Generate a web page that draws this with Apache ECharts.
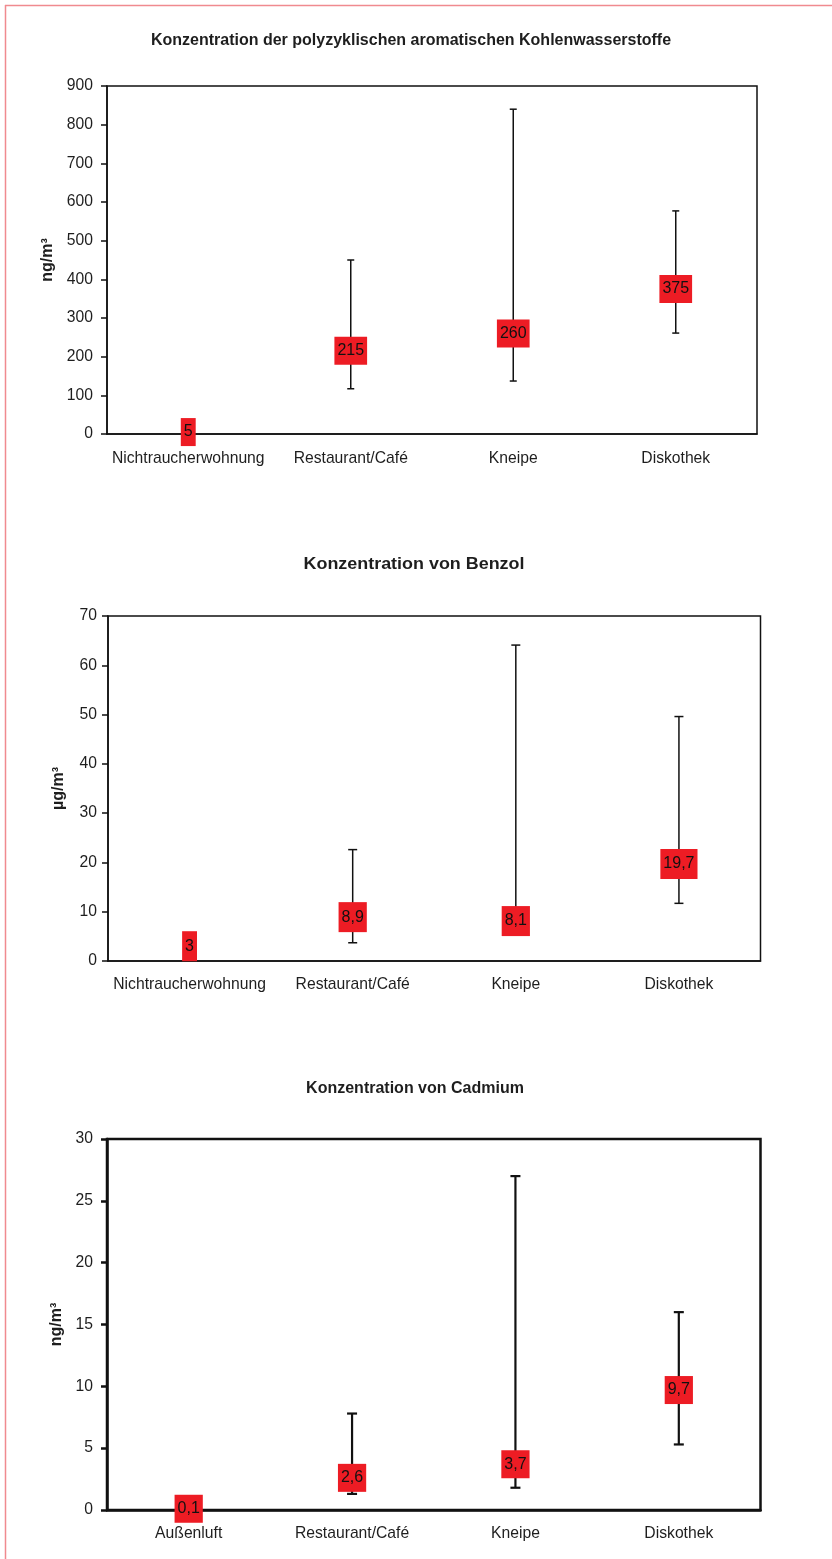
<!DOCTYPE html>
<html>
<head>
<meta charset="utf-8">
<script src="https://cdn.jsdelivr.net/npm/echarts@6/dist/echarts.min.js"></script>
<style>
html,body{margin:0;padding:0;background:#fff;}
#c{width:832px;height:1559px;}
</style>
</head>
<body>
<div id="c"></div>
<script>
// ---------- data ----------
const categoriesA = ['Nichtraucherwohnung', 'Restaurant/Café', 'Kneipe', 'Diskothek'];
const categoriesB = ['Außenluft', 'Restaurant/Café', 'Kneipe', 'Diskothek'];

const pahTitle = 'Konzentration der polyzyklischen aromatischen Kohlenwasserstoffe';
const pahMedian = [5, 215, 260, 375];
const pahMin = [null, 117, 137, 261];
const pahMax = [null, 450, 840, 577];

const benzTitle = 'Konzentration von Benzol';
const benzMedian = [3, 8.9, 8.1, 19.7];
const benzMin = [null, 3.7, 5.5, 11.7];
const benzMax = [null, 22.6, 64.1, 49.6];

const cdTitle = 'Konzentration von Cadmium';
const cdMedian = [0.1, 2.6, 3.7, 9.7];
const cdMin = [null, 1.3, 1.8, 5.3];
const cdMax = [null, 7.8, 27.0, 16.0];

const unitA = 'ng/m³';
const unitB = 'µg/m³';

// ---------- helpers ----------
const FONT = "'Liberation Sans', Arial, Helvetica, sans-serif";
const TXT = '#1e1e1e';

function rangeData(mins, maxs) {
  const out = [];
  mins.forEach((m, i) => { if (m != null && maxs[i] != null) out.push([i, m, maxs[i]]); });
  return out;
}
function medianData(vals) { return vals.map((v, i) => [i, v]); }

function errRender(capHalf, lw) {
  return function (params, api) {
    const x = api.value(0), lo = api.value(1), hi = api.value(2);
    const p1 = api.coord([x, lo]), p2 = api.coord([x, hi]);
    const style = { stroke: '#111', lineWidth: lw };
    return {
      type: 'group', children: [
        { type: 'line', shape: { x1: p1[0], y1: p1[1], x2: p2[0], y2: p2[1] }, style: style },
        { type: 'line', shape: { x1: p1[0] - capHalf, y1: p1[1], x2: p1[0] + capHalf, y2: p1[1] }, style: style },
        { type: 'line', shape: { x1: p2[0] - capHalf, y1: p2[1], x2: p2[0] + capHalf, y2: p2[1] }, style: style }
      ]
    };
  };
}

function xAx(idx, cats, lw, margin) {
  return {
    type: 'category', gridIndex: idx, data: cats, boundaryGap: true,
    axisLine: { lineStyle: { color: '#111', width: lw } },
    axisTick: { show: false },
    axisLabel: { color: TXT, fontSize: 15.7, fontFamily: FONT, margin: margin, interval: 0 },
    splitLine: { show: false }
  };
}
function yAx(idx, max, interval, name, lw, margin, nameGap) {
  return {
    type: 'value', gridIndex: idx, min: 0, max: max, interval: interval,
    name: name, nameLocation: 'middle', nameRotate: 90, nameGap: nameGap,
    nameTextStyle: { color: TXT, fontSize: 16, fontWeight: 'bold', fontFamily: FONT },
    axisLine: { show: true, lineStyle: { color: '#111', width: lw } },
    axisTick: { show: true, inside: false, length: 6, lineStyle: { color: '#111', width: lw } },
    axisLabel: { color: TXT, fontSize: 15.7, fontFamily: FONT, margin: margin },
    splitLine: { show: false }
  };
}
function medSeries(idx, vals, padV) {
  return {
    type: 'scatter', xAxisIndex: idx, yAxisIndex: idx, z: 5,
    data: medianData(vals), symbol: 'rect', symbolSize: 2,
    itemStyle: { color: 'rgba(237,28,36,0)', opacity: 1 },
    label: {
      show: true, position: 'inside', opacity: 1,
      formatter: p => String(p.value[1]).replace('.', ','),
      backgroundColor: '#ED1C24', padding: [padV, 3, padV, 3],
      color: '#111', fontSize: 16, lineHeight: 18, fontFamily: FONT
    },
    emphasis: { disabled: true }
  };
}
function errSeries(idx, mins, maxs, capHalf, lw) {
  return {
    type: 'custom', xAxisIndex: idx, yAxisIndex: idx, z: 3,
    data: rangeData(mins, maxs),
    encode: { x: 0, y: [1, 2] },
    renderItem: errRender(capHalf, lw)
  };
}
function titleText(text, x, y, sx) {
  return {
    type: 'text', x: x, y: y, scaleX: sx || 1,
    style: { text: text, fill: TXT, font: 'bold 16px ' + FONT, textAlign: 'center', textVerticalAlign: 'middle' }
  };
}

const chart = echarts.init(document.getElementById('c'), null, { renderer: 'canvas' });
chart.setOption({
  animation: false,
  backgroundColor: '#fff',
  grid: [
    { left: 107, top: 86, right: 75, height: 348, show: true, borderColor: '#111', borderWidth: 1.5, containLabel: false },
    { left: 108, top: 616, right: 71.5, height: 345, show: true, borderColor: '#111', borderWidth: 1.5, containLabel: false },
    { left: 107, top: 1139, right: 71.5, height: 371, show: true, borderColor: '#111', borderWidth: 2.5, containLabel: false }
  ],
  xAxis: [xAx(0, categoriesA, 1.5, 17), xAx(1, categoriesA, 1.5, 16), xAx(2, categoriesB, 2.5, 16)],
  yAxis: [
    yAx(0, 900, 100, unitA, 1.5, 14, 42),
    yAx(1, 70, 10, unitB, 1.5, 11, 41),
    yAx(2, 30, 5, unitA, 2.5, 14, 39)
  ],
  series: [
    errSeries(0, pahMin, pahMax, 3.5, 1.5), medSeries(0, pahMedian, 5),
    errSeries(1, benzMin, benzMax, 4.5, 1.5), medSeries(1, benzMedian, 6),
    errSeries(2, cdMin, cdMax, 5, 2.2), medSeries(2, cdMedian, 5)
  ],
  graphic: [
    { type: 'line', shape: { x1: 5.5, y1: 5, x2: 5.5, y2: 1559 }, style: { stroke: '#f08a8f', lineWidth: 1.5 } },
    { type: 'line', shape: { x1: 5, y1: 5.5, x2: 832, y2: 5.5 }, style: { stroke: '#f08a8f', lineWidth: 1.5 } },
    titleText(pahTitle, 411, 41),
    titleText(benzTitle, 414, 565, 1.12),
    titleText(cdTitle, 415, 1089)
  ]
});
</script>
</body>
</html>
